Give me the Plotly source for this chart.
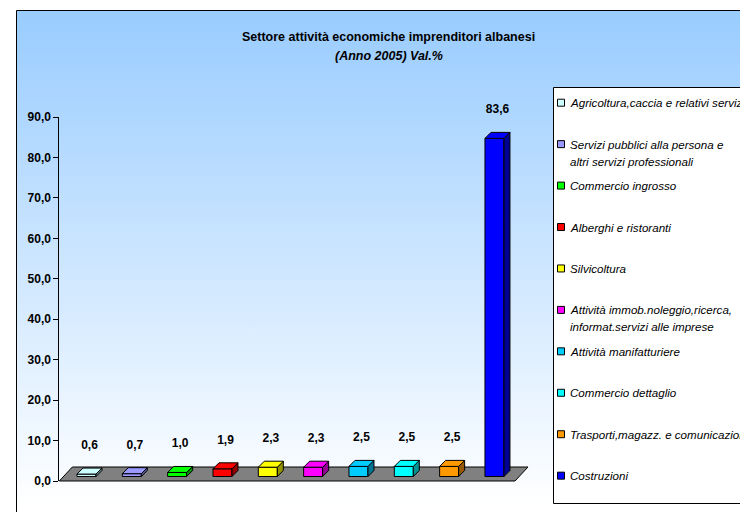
import plotly.graph_objects as go

# ---------------------------------------------------------------- data
categories = [
    "Agricoltura,caccia e relativi servizi",
    "Servizi pubblici alla persona e\naltri servizi professionali",
    "Commercio ingrosso",
    "Alberghi e ristoranti",
    "Silvicoltura",
    "Attività immob.noleggio,ricerca,\ninformat.servizi alle imprese",
    "Attività manifatturiere",
    "Commercio dettaglio",
    "Trasporti,magazz. e comunicazioni",
    "Costruzioni",
]
values = [0.6, 0.7, 1.0, 1.9, 2.3, 2.3, 2.5, 2.5, 2.5, 83.6]
colors = ["#CCFFFF", "#9999FF", "#00FF00", "#FF0000", "#FFFF00",
          "#FF00FF", "#00CCFF", "#00FFFF", "#FF9900", "#0000FF"]
y_ticks = [0, 10, 20, 30, 40, 50, 60, 70, 80, 90]
title = "Settore attività economiche imprenditori albanesi"
subtitle = "(Anno 2005) Val.%"

# ---------------------------------------------------------------- geometry (pixels)
W, H = 740, 512
FONT = "Liberation Sans, Arial, sans-serif"
SLOT = 45.33            # width of one category slot
X0 = 59.33              # left edge of first slot (front plane)
Y0 = 481.0              # pixel row of value 0 on the front plane
K = 364.0 / 90.0        # pixels per unit of value

OX, OY = 4.5 / SLOT, 4.5 / K      # bar front plane offset (depth)
BDX, BDY = 6.0 / SLOT, 6.0 / K    # bar depth
BW = 19.0 / SLOT                  # bar width
FDX, FDY = 13.0 / SLOT, 14.0 / K  # floor depth
FLOOR_RIGHT = (515.0 - X0) / SLOT - 0.5


def px_x(px):
    return px / W


def px_y(px):
    return (H - px) / H


def darker(hex_color, f=0.58):
    h = hex_color.lstrip("#")
    r, g, b = (int(h[i:i + 2], 16) for i in (0, 2, 4))
    return "rgb(%d,%d,%d)" % (r * f, g * f, b * f)


def fmt(v):
    return f"{v:.1f}".replace(".", ",")


fig = go.Figure()

# ---------------------------------------------------------------- chart background (gradient box)
fig.add_trace(go.Scatter(
    x=[16.5, 900, 900, 16.5, 16.5],
    y=[H - 10.5, H - 10.5, -50, -50, H - 10.5],
    mode="lines", fill="toself",
    line=dict(color="black", width=1),
    fillgradient=dict(type="vertical",
                      colorscale=[[0, "#FFFFFF"], [1, "#99CCFF"]],
                      start=H - 505, stop=H - 12),
    hoverinfo="skip", showlegend=False,
    xaxis="x", yaxis="y",
))

# ---------------------------------------------------------------- visible value axis (x2/y2)
fig.add_trace(go.Scatter(x=[None], y=[None], xaxis="x2", yaxis="y2",
                         showlegend=False, hoverinfo="skip"))

# ---------------------------------------------------------------- bars (x3/y3)
n = len(values)
xs = list(range(n))
fig.add_trace(go.Bar(
    x=[i + OX for i in xs], y=values, base=OY, width=BW,
    marker=dict(color=colors, line=dict(color="black", width=1)),
    xaxis="x3", yaxis="y3", showlegend=False, hoverinfo="skip",
))

for i, v, c in zip(xs, values, colors):
    xl, xr = i + OX - BW / 2, i + OX + BW / 2
    yb, yt = OY, OY + v
    # right side face
    fig.add_trace(go.Scatter(
        x=[xr, xr + BDX, xr + BDX, xr, xr],
        y=[yb, yb + BDY, yt + BDY, yt, yb],
        mode="lines", fill="toself", fillcolor=darker(c),
        line=dict(color="black", width=1),
        xaxis="x3", yaxis="y3", showlegend=False, hoverinfo="skip",
    ))
    # top face
    fig.add_trace(go.Scatter(
        x=[xl, xr, xr + BDX, xl + BDX, xl],
        y=[yt, yt, yt + BDY, yt + BDY, yt],
        mode="lines", fill="toself", fillcolor=c,
        line=dict(color="black", width=1),
        xaxis="x3", yaxis="y3", showlegend=False, hoverinfo="skip",
    ))

# value labels above each bar
fig.add_trace(go.Scatter(
    x=[i + OX + BDX / 2 for i in xs],
    y=[OY + v + BDY + 22.0 / K for v in values],
    mode="text", text=[fmt(v) for v in values],
    textposition="middle center",
    textfont=dict(family=FONT, size=12, color="black", weight="bold"),
    cliponaxis=False,
    xaxis="x3", yaxis="y3", showlegend=False, hoverinfo="skip",
))

# ---------------------------------------------------------------- floor
shapes = [dict(
    type="path", xref="x3", yref="y3", layer="below",
    path=(f"M {-0.5},{0} L {FLOOR_RIGHT},{0} "
          f"L {FLOOR_RIGHT + FDX},{FDY} L {-0.5 + FDX},{FDY} Z"),
    fillcolor="#808080", line=dict(color="black", width=1),
)]

# ---------------------------------------------------------------- legend box
LEG_L, LEG_T, LEG_B = 553.5, 87.5, 503.5
shapes.append(dict(
    type="rect", xref="x", yref="y", layer="above",
    x0=LEG_L, x1=900, y0=H - LEG_B, y1=H - LEG_T,
    fillcolor="white", line=dict(color="black", width=1),
))

annotations = []
ROW0, ROW_STEP, LINE2 = 102.7, 41.44, 17.0
for j, (label, c) in enumerate(zip(categories, colors)):
    yc = ROW0 + ROW_STEP * j
    shapes.append(dict(
        type="rect", xref="x", yref="y", layer="above",
        x0=557.5, x1=564.5, y0=H - (yc + 3.5), y1=H - (yc - 3.5),
        fillcolor=c, line=dict(color="black", width=1),
    ))
    for k, line in enumerate(label.split("\n")):
        annotations.append(dict(
            x=px_x(568), y=px_y(yc + k * LINE2), xref="paper", yref="paper",
            xanchor="left", yanchor="middle", showarrow=False, text=line,
            font=dict(family=FONT, size=11.6, color="black", style="italic"),
        ))

# ---------------------------------------------------------------- titles
annotations.append(dict(
    x=px_x(389), y=px_y(37), xref="paper", yref="paper",
    xanchor="center", yanchor="middle", showarrow=False,
    text=f"<b>{title}</b>",
    font=dict(family=FONT, size=12.5, color="black"),
))
annotations.append(dict(
    x=px_x(389), y=px_y(55.5), xref="paper", yref="paper",
    xanchor="center", yanchor="middle", showarrow=False,
    text=f"<b><i>{subtitle}</i></b>",
    font=dict(family=FONT, size=12.5, color="black"),
))

# ---------------------------------------------------------------- axes
X3_LO, X3_HI = -0.7, 10.3
Y3_LO, Y3_HI = -3.0, 96.0

hidden = dict(visible=False, automargin=False, fixedrange=True)

fig.update_layout(
    width=W, height=H,
    margin=dict(l=0, r=0, t=0, b=0, pad=0, autoexpand=False),
    paper_bgcolor="white", plot_bgcolor="rgba(0,0,0,0)",
    separators=",.",
    hovermode=False,
    showlegend=False,
    shapes=shapes,
    annotations=annotations,
    xaxis=dict(domain=[0, 1], range=[0, W], **hidden),
    yaxis=dict(domain=[0, 1], range=[0, H], **hidden),
    xaxis2=dict(domain=[px_x(X0), px_x(X0 + n * SLOT)], range=[-0.5, n - 0.5],
                anchor="y2", **hidden),
    yaxis2=dict(domain=[px_y(Y0), px_y(Y0 - 90 * K)], range=[0, 90],
                anchor="x2", automargin=False, fixedrange=True,
                showline=True, linecolor="black", linewidth=1,
                ticks="outside", ticklen=5, tickcolor="black", tickwidth=1,
                tickvals=y_ticks, tickformat=".1f", showgrid=False,
                zeroline=False,
                tickfont=dict(family=FONT, size=12, color="black", weight="bold")),
    xaxis3=dict(domain=[px_x(X0 + (X3_LO + 0.5) * SLOT),
                        px_x(X0 + (X3_HI + 0.5) * SLOT)],
                range=[X3_LO, X3_HI], anchor="y3", **hidden),
    yaxis3=dict(domain=[px_y(Y0 - Y3_LO * K), px_y(Y0 - Y3_HI * K)],
                range=[Y3_LO, Y3_HI], anchor="x3", **hidden),
)

fig.write_html("out.html")
